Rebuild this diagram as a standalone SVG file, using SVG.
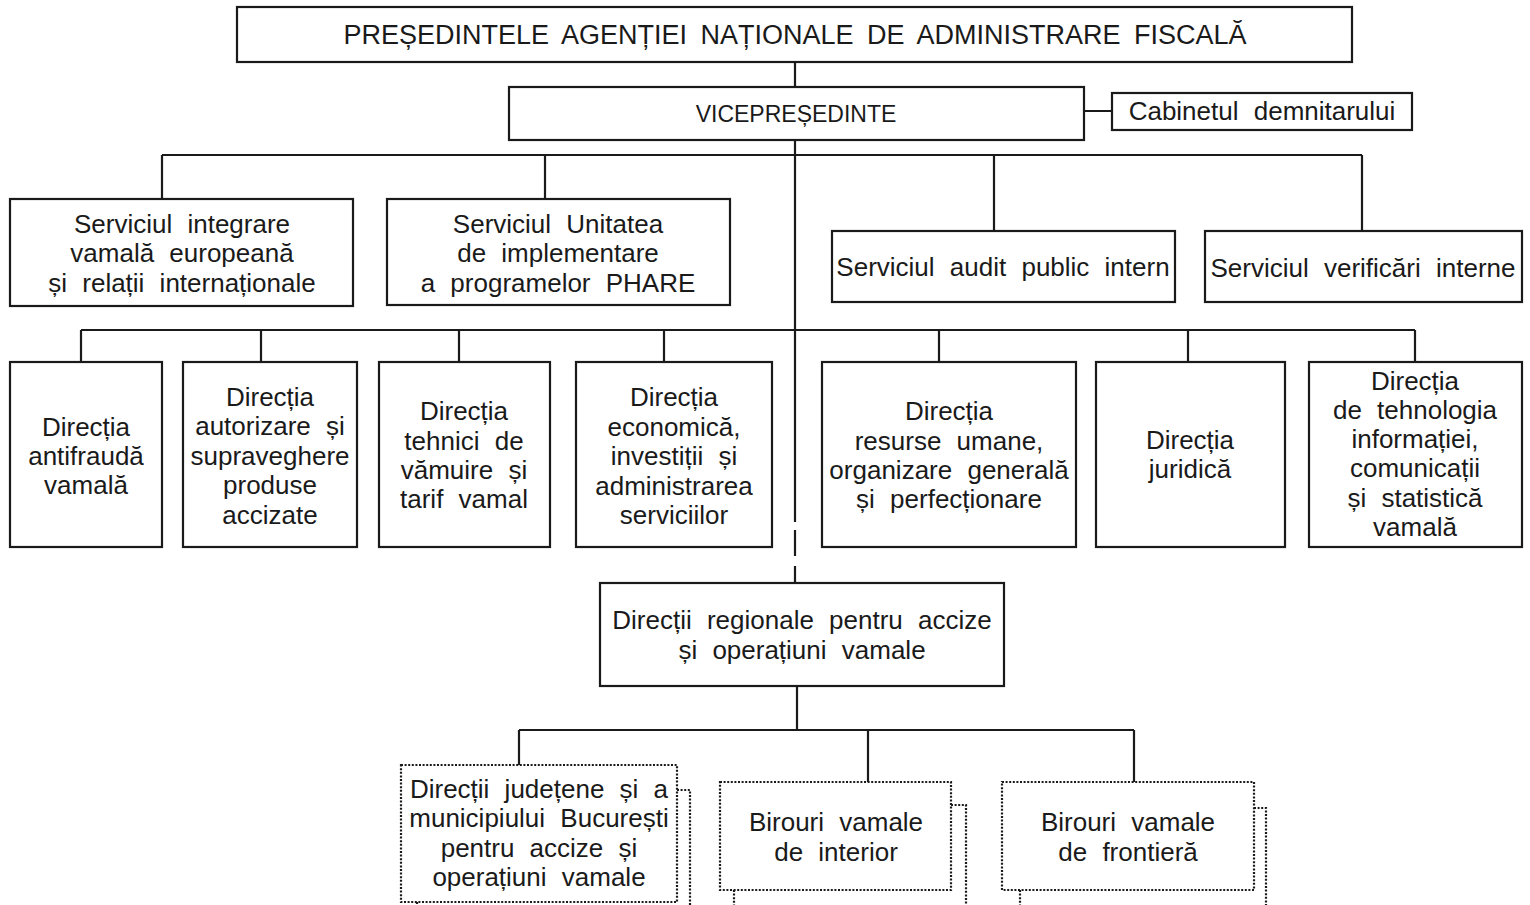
<svg xmlns="http://www.w3.org/2000/svg" width="1530" height="905" viewBox="0 0 1530 905">
<style>
.box{fill:#fff;stroke:#1a1a1a;stroke-width:2.2}
.dot{fill:#fff;stroke:#1a1a1a;stroke-width:2.2;stroke-dasharray:2 1.6}
.dl{fill:none;stroke:#1a1a1a;stroke-width:2.2;stroke-dasharray:2 1.6}
.ln{fill:none;stroke:#1a1a1a;stroke-width:2.2}
text{font-family:"Liberation Sans",Arial,sans-serif;font-size:26px;fill:#1a1a1a;text-anchor:middle;word-spacing:8px}
</style>
<rect width="1530" height="905" fill="#fff"/>
<g id="connectors">
<path class="ln" d="M795 62V87M1084 111H1112M795 140V522M795 530V556M795 566V583M162 155H1362M162 155V199M545 155V199M994 155V231M1362 155V231M81 330H1415M81 330V362M261 330V362M459 330V362M664 330V362M939 330V362M1188 330V362M1415 330V362M797 686V730M519 730H1134M519 730V765M868 730V782M1134 730V782"/>
</g>
<g id="presedinte"><rect class="box" x="237" y="7" width="1115" height="55"/><text x="795" y="44" style="font-size:27px;word-spacing:6px">PREȘEDINTELE AGENȚIEI NAȚIONALE DE ADMINISTRARE FISCALĂ</text></g>
<g id="vicepresedinte"><rect class="box" x="509" y="87" width="575" height="53"/><text x="796" y="122" style="font-size:23px">VICEPREȘEDINTE</text></g>
<g id="cabinet"><rect class="box" x="1112" y="93" width="300" height="37"/><text x="1262" y="120">Cabinetul demnitarului</text></g>
<g id="s-integrare"><rect class="box" x="10" y="199" width="343" height="107"/><text x="182" y="233">Serviciul integrare</text><text x="182" y="262">vamală europeană</text><text x="182" y="292">și relații internaționale</text></g>
<g id="s-phare"><rect class="box" x="387" y="199" width="343" height="106"/><text x="558" y="233">Serviciul Unitatea</text><text x="558" y="262">de implementare</text><text x="558" y="292">a programelor PHARE</text></g>
<g id="s-audit"><rect class="box" x="832" y="231" width="343" height="71"/><text x="1003" y="276">Serviciul audit public intern</text></g>
<g id="s-verificari"><rect class="box" x="1205" y="231" width="317" height="71"/><text x="1363" y="277">Serviciul verificări interne</text></g>
<g id="d-antifrauda"><rect class="box" x="10" y="362" width="152" height="185"/><text x="86" y="436">Direcția</text><text x="86" y="465">antifraudă</text><text x="86" y="494">vamală</text></g>
<g id="d-autorizare"><rect class="box" x="183" y="362" width="174" height="185"/><text x="270" y="406">Direcția</text><text x="270" y="435">autorizare și</text><text x="270" y="465">supraveghere</text><text x="270" y="494">produse</text><text x="270" y="524">accizate</text></g>
<g id="d-tehnici"><rect class="box" x="379" y="362" width="171" height="185"/><text x="464" y="420">Direcția</text><text x="464" y="450">tehnici de</text><text x="464" y="479">vămuire și</text><text x="464" y="508">tarif vamal</text></g>
<g id="d-economica"><rect class="box" x="576" y="362" width="196" height="185"/><text x="674" y="406">Direcția</text><text x="674" y="436">economică,</text><text x="674" y="465">investiții și</text><text x="674" y="495">administrarea</text><text x="674" y="524">serviciilor</text></g>
<g id="d-resurse"><rect class="box" x="822" y="362" width="254" height="185"/><text x="949" y="420">Direcția</text><text x="949" y="450">resurse umane,</text><text x="949" y="479">organizare generală</text><text x="949" y="508">și perfecționare</text></g>
<g id="d-juridica"><rect class="box" x="1096" y="362" width="189" height="185"/><text x="1190" y="449">Direcția</text><text x="1190" y="478">juridică</text></g>
<g id="d-tehnologia"><rect class="box" x="1309" y="362" width="213" height="185"/><text x="1415" y="390">Direcția</text><text x="1415" y="419">de tehnologia</text><text x="1415" y="448">informației,</text><text x="1415" y="477">comunicații</text><text x="1415" y="507">și statistică</text><text x="1415" y="536">vamală</text></g>
<g id="d-regionale"><rect class="box" x="600" y="583" width="404" height="103"/><text x="802" y="629">Direcții regionale pentru accize</text><text x="802" y="659">și operațiuni vamale</text></g>
<g id="d-judetene"><path class="dl" d="M677 790H690V910M417 902V910"/><rect class="dot" x="401" y="765" width="276" height="137"/><text x="539" y="798">Direcții județene și a</text><text x="539" y="827">municipiului București</text><text x="539" y="857">pentru accize și</text><text x="539" y="886">operațiuni vamale</text></g>
<g id="b-interior"><path class="dl" d="M951 805H966V910M734 890V910"/><rect class="dot" x="720" y="782" width="231" height="108"/><text x="836" y="831">Birouri vamale</text><text x="836" y="861">de interior</text></g>
<g id="b-frontiera"><path class="dl" d="M1254 808H1266V910M1020 890V910"/><rect class="dot" x="1002" y="782" width="252" height="108"/><text x="1128" y="831">Birouri vamale</text><text x="1128" y="861">de frontieră</text></g>
</svg>
